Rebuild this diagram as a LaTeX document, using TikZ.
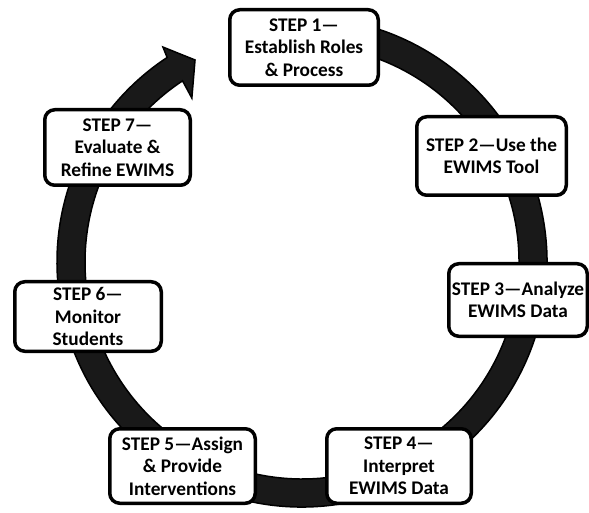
\documentclass[tikz,border=0pt]{standalone}
\usepackage{fontspec}
\setmainfont{Carlito}
\usetikzlibrary{shadows}
\tikzset{
  stepbox/.style={draw=black, line width=3.5pt, rounded corners=10pt, fill=white,
    align=center, inner sep=0pt,
    font=\bfseries\fontsize{19.3}{22.5}\selectfont,
    drop shadow={shadow xshift=1pt, shadow yshift=-1.5pt, fill=black, opacity=0.7}},
  ringband/.style={fill=black!90, draw=black, line width=1.5pt, line join=miter}
}
\begin{document}
\begin{tikzpicture}[x=1pt,y=1pt]
\useasboundingbox (0,0) rectangle (589,512);
\coordinate (c) at (302,250);
\path[ringband, shift={(c)}]
  (100:245pt) arc[start angle=100, end angle=-236.6, radius=245pt]
  -- (-237.1:256pt) -- (-242.1:228.6pt) -- (-236.1:197.5pt)
  -- (-236.6:217pt) arc[start angle=-236.6, end angle=100, radius=217pt]
  -- cycle;
\node[stepbox, minimum width=148.5pt, minimum height=75.5pt] (s1) at (304,464.5)
  {STEP 1—\\Establish Roles\\\& Process};
\node[stepbox, minimum width=149.5pt, minimum height=78.5pt] (s2) at (491.5,356)
  {STEP 2—Use the\\EWIMS Tool};
\node[stepbox, minimum width=138.5pt, minimum height=72.5pt] (s3) at (518,212)
  {STEP 3—Analyze\\EWIMS Data};
\node[stepbox, minimum width=144.5pt, minimum height=74.5pt] (s4) at (399,46)
  {STEP 4—\\Interpret\\EWIMS Data};
\node[stepbox, minimum width=145.5pt, minimum height=74.5pt] (s5) at (182.5,46)
  {STEP 5—Assign\\\& Provide\\Interventions};
\node[stepbox, minimum width=146.5pt, minimum height=69.5pt] (s6) at (88,195.5)
  {STEP 6—\\Monitor\\Students};
\node[stepbox, minimum width=145.5pt, minimum height=75.5pt] (s7) at (117.5,364.5)
  {STEP 7—\\Evaluate \&\\Refine EWIMS};
\end{tikzpicture}
\end{document}
